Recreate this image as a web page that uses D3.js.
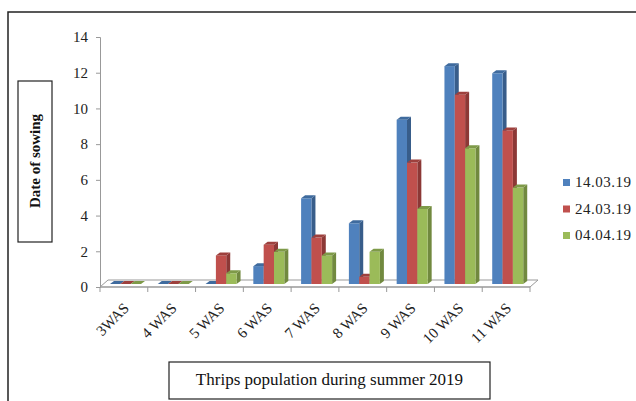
<!DOCTYPE html>
<html><head><meta charset="utf-8">
<script src="https://cdn.jsdelivr.net/npm/d3@7"></script>
<style>body{margin:0;background:#fff}svg{display:block}text{font-family:"Liberation Serif","Times New Roman",serif}</style>
</head><body><svg id="c" width="636" height="401"></svg>
<script>
const categories = ["3WAS","4 WAS","5 WAS","6 WAS","7 WAS","8 WAS","9 WAS","10 WAS","11 WAS"];
const seriesNames = ["14.03.19","24.03.19","04.04.19"];
const s1 = [0,0,0,1.0,4.8,3.4,9.2,12.2,11.8];
const s2 = [0,0,1.6,2.2,2.6,0.4,6.8,10.6,8.6];
const s3 = [0,0,0.6,1.8,1.6,1.8,4.2,7.6,5.4];
const yTicks = [0,2,4,6,8,10,12,14];
const series = [s1,s2,s3];
const front = ["#4F81BD","#C0504D","#9BBB59"];
const side = ["#385D8A","#8C3836","#71893F"];
const cap = ["#3F6B9E","#9E403D","#7E9A48"];

const svg = d3.select("#c");
// outer frame
svg.append("path").attr("d","M8,401 V12 H636").attr("fill","none").attr("stroke","#222").attr("stroke-width",1.5);

const x0 = d3.scaleBand().domain(categories).range([100,530]).padding(0);
const x1 = d3.scaleBand().domain(d3.range(3)).range([10,41]).padding(0);
const y = d3.scaleLinear().domain([0,14]).range([287,37]);
const dx = 4, dy = -3, floorD = 8;

// floor
const g = svg.append("g");
g.append("path").attr("d",`M100,287 L${100+floorD},${287-7} L${530+floorD},${287-7} L530,287 Z`)
  .attr("fill","none").attr("stroke","#999").attr("stroke-width",1);

// y axis
const ya = svg.append("g").attr("transform","translate(100,0)").call(d3.axisLeft(y).tickValues(yTicks).tickSize(4).tickPadding(8));
ya.select(".domain").attr("stroke","#999");
ya.selectAll(".tick line").attr("stroke","#999");
ya.selectAll("text").attr("font-size",15).attr("fill","#222").style("font-family","Liberation Serif");

// x axis ticks
const xa = svg.append("g").attr("transform","translate(0,287)");
xa.append("line").attr("x1",100).attr("x2",530).attr("stroke","#999");
xa.selectAll("line.t").data(categories.concat(["end"])).enter().append("line")
  .attr("x1",(d,i)=>i<categories.length?x0(d):530).attr("x2",(d,i)=>i<categories.length?x0(d):530)
  .attr("y1",0).attr("y2",5).attr("stroke","#999");
xa.selectAll("text").data(categories).enter().append("text")
  .attr("transform",d=>`translate(${x0(d)+x0.bandwidth()/2+6},${22}) rotate(-45)`)
  .attr("text-anchor","end").attr("font-size",15).attr("fill","#222").text(d=>d);

// bars
const bars = svg.append("g");
const base = y(0) - 3;
categories.forEach((c,ci)=>{
  series.forEach((s,si)=>{
    const v = s[ci];
    const xl = x0(c) + x1(si), w = x1.bandwidth();
    const top = y(v) - 3;
    const gb = bars.append("g");
    // side face
    gb.append("path").attr("d",`M${xl+w},${base} L${xl+w+dx},${base+dy} L${xl+w+dx},${top+dy} L${xl+w},${top} Z`).attr("fill",side[si]);
    // front
    gb.append("rect").attr("x",xl).attr("y",top).attr("width",w).attr("height",Math.max(0,base-top)).attr("fill",front[si]);
    // cap
    gb.append("path").attr("d",`M${xl},${top} L${xl+dx},${top+dy} L${xl+w+dx},${top+dy} L${xl+w},${top} Z`).attr("fill",cap[si]);
  });
});

// legend
const lg = svg.append("g");
seriesNames.forEach((n,i)=>{
  const yy = 187 + i*26.5;
  lg.append("rect").attr("x",563).attr("y",yy-8).attr("width",7).attr("height",7).attr("fill",front[i]);
  lg.append("text").attr("x",575).attr("y",yy).attr("font-size",15).attr("letter-spacing",0.5).attr("fill","#222").text(n);
});

// y title box
svg.append("rect").attr("x",18).attr("y",81).attr("width",34).attr("height",161).attr("fill","#fff").attr("stroke","#222").attr("stroke-width",1.2);
svg.append("text").attr("transform","translate(40,161) rotate(-90)").attr("text-anchor","middle")
  .attr("font-size",15).attr("font-weight","bold").attr("fill","#111").text("Date of sowing");

// x title box
svg.append("rect").attr("x",169).attr("y",362).attr("width",321).attr("height",37).attr("fill","#fff").attr("stroke","#222").attr("stroke-width",1.2);
svg.append("text").attr("x",329.5).attr("y",385).attr("text-anchor","middle").attr("font-size",17).attr("fill","#111").text("Thrips population during summer 2019");
</script></body></html>
